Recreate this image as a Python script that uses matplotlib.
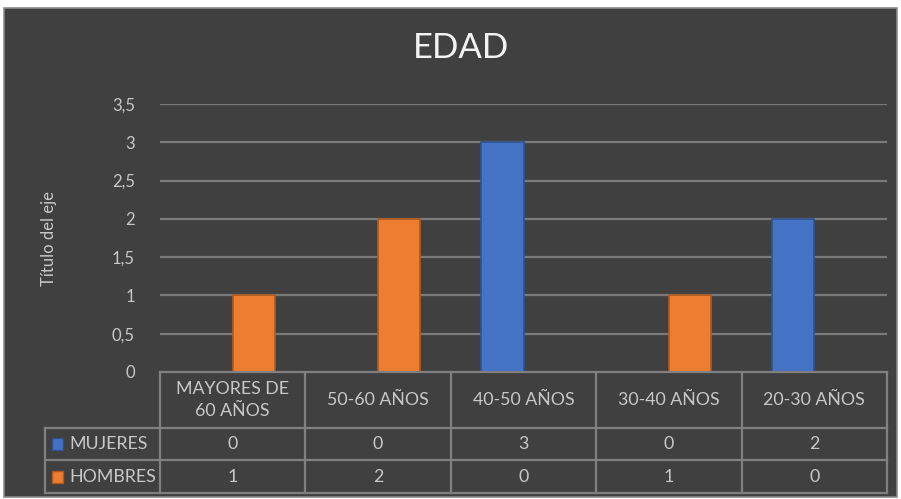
import matplotlib
matplotlib.use("Agg")
import matplotlib.pyplot as plt
import matplotlib.transforms as mtransforms
from matplotlib.patches import Rectangle
import numpy as np

categories = ["MAYORES DE\n60 AÑOS", "50-60 AÑOS", "40-50 AÑOS", "30-40 AÑOS", "20-30 AÑOS"]
series_names = ["MUJERES", "HOMBRES"]
mujeres = [0, 0, 3, 0, 2]
hombres = [1, 2, 0, 1, 0]
yticks = [0, 0.5, 1, 1.5, 2, 2.5, 3, 3.5]
ytick_labels = ["0", "0,5", "1", "1,5", "2", "2,5", "3", "3,5"]
title = "EDAD"
ylabel = "Título del eje"

BG = "#404040"
TXT = "#c8c8c8"
GRID = "#7a7a7a"
colors = ["#4472C4", "#ED7D31"]
edges = ["#2F528F", "#AE5A21"]
FONT = ["Lato", "DejaVu Sans"]

W, H = 901, 499
fig = plt.figure(figsize=(W / 100, H / 100), dpi=100, facecolor="white")
bgpatch = Rectangle((4 / W, 2 / H), 893 / W, 489 / H, transform=fig.transFigure,
                    facecolor=BG, edgecolor="#8c8c8c", linewidth=1.2, zorder=-10)
fig.patches.append(bgpatch)

left, right, top, bottom = 160, 887, 104, 372
ax = fig.add_axes([left / W, 1 - bottom / H, (right - left) / W, (bottom - top) / H])
ax.set_zorder(1)
ax.set_facecolor("none")
n = len(categories)
x = np.arange(n)
bw = 0.29
series = [mujeres, hombres]
for i, vals in enumerate(series):
    ax.bar(x + (i - 0.5) * bw, vals, width=bw, color=colors[i], edgecolor=edges[i],
           linewidth=1.2, zorder=3)

ax.set_xlim(-0.5, n - 0.5)
ax.set_ylim(0, 3.5)
ax.set_yticks(yticks)
ax.set_yticklabels(ytick_labels)
ax.set_xticks([])
ax.grid(axis="y", color=GRID, linewidth=1.6, zorder=0)
ax.get_ygridlines()[0].set_visible(False)
for s in ax.spines.values():
    s.set_visible(False)
ax.tick_params(axis="y", length=0, pad=18, labelcolor=TXT, labelsize=12)
for lab in ax.get_yticklabels():
    lab.set_family(FONT)

ax.set_ylabel(ylabel, color=TXT, fontsize=12, family=FONT)
ax.yaxis.set_label_coords((57 - left) / (right - left), 0.5)

fig.text(461 / W, 1 - 48 / H, title, ha="center", va="center", color="#f2f2f2",
         fontsize=25, family=FONT)

# Data table below the axes
tr = mtransforms.blended_transform_factory(ax.transData, ax.transAxes)
def ay(py):
    return (bottom - py) / (bottom - top)
y_rows = [ay(372), ay(428), ay(460), ay(493)]
cw = (right - left) / n
x_left = -0.5 + (45 - left) / cw
lw = 1.6
lc = "#808080"
fs = 12.8
kw = dict(transform=tr, color=lc, linewidth=lw, clip_on=False, zorder=4)
ax.plot([-0.5, n - 0.5], [y_rows[0]] * 2, **kw)
for yy in y_rows[1:]:
    ax.plot([x_left, n - 0.5], [yy] * 2, **kw)
for b in np.arange(-0.5, n, 1.0):
    ax.plot([b, b], [y_rows[0], y_rows[3]], **kw)
ax.plot([x_left, x_left], [y_rows[1], y_rows[3]], **kw)

for j, cat in enumerate(categories):
    ax.text(x[j], (y_rows[0] + y_rows[1]) / 2, cat, transform=tr, ha="center", va="center",
            color=TXT, fontsize=fs, family=FONT, linespacing=1.4, clip_on=False)
for i, vals in enumerate(series):
    yc = (y_rows[i + 1] + y_rows[i + 2]) / 2
    for j, v in enumerate(vals):
        ax.text(x[j], yc, str(v), transform=tr, ha="center", va="center",
                color=TXT, fontsize=fs, family=FONT, clip_on=False)
    ax.add_patch(Rectangle((x_left + 7 / cw, yc - 6 / (bottom - top)), 11 / cw,
                           12 / (bottom - top), transform=tr, facecolor=colors[i], edgecolor=edges[i],
                           linewidth=1.0, clip_on=False, zorder=5))
    ax.text(x_left + 24 / cw, yc, series_names[i], transform=tr, ha="left",
            va="center", color=TXT, fontsize=fs, family=FONT, clip_on=False)

fig.savefig("out.png", dpi=100, facecolor="white")
